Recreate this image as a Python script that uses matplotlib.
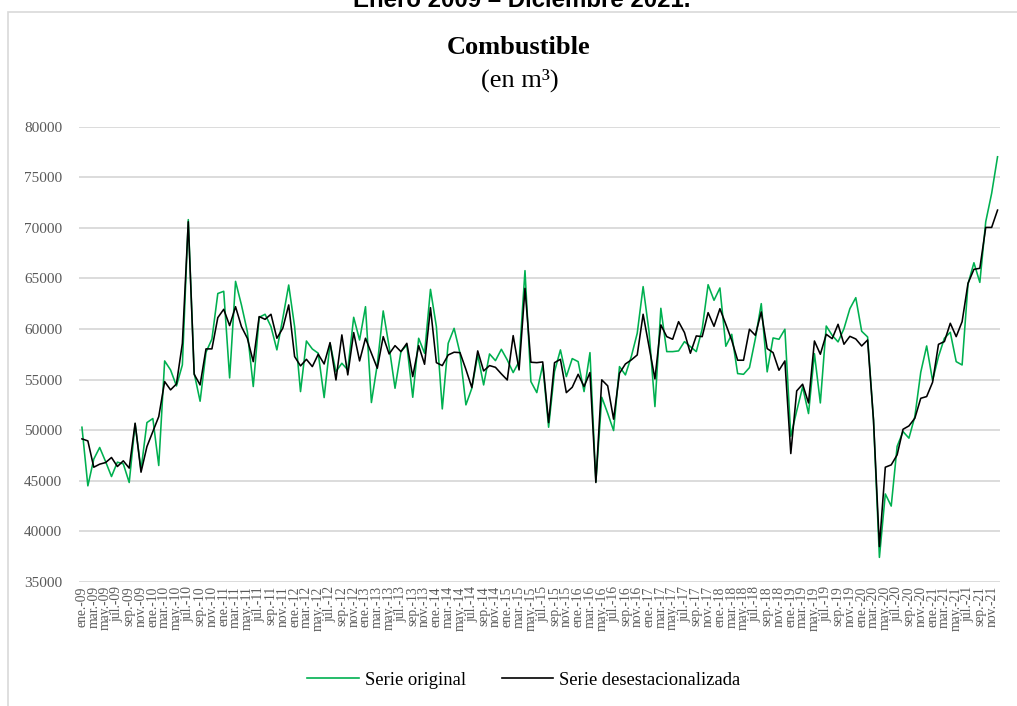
import matplotlib
matplotlib.use("Agg")
import matplotlib.pyplot as plt
from matplotlib.patches import Rectangle
from matplotlib.lines import Line2D

# monthly data, ene-2009 .. dic-2021 (values in m3)
meses = ["ene", "feb", "mar", "abr", "may", "jun", "jul", "ago", "sep", "oct", "nov", "dic"]
anios = list(range(9, 22))
etiquetas = [f"{m}.-{a:02d}" for a in anios for m in meses]

serie_original = [
    50290, 44500, 47140, 48290, 46900, 45420, 46840, 46670, 44830, 50620, 46080, 50750,
    51150, 46510, 56840, 55950, 54370, 56450, 70800, 55620, 52860, 57700, 59000, 63500,
    63720, 55160, 64700, 62370, 59740, 54310, 61150, 61450, 60230, 57930, 61050, 64340,
    60230, 53810, 58810, 58020, 57600, 53220, 58580, 55790, 56610, 55950, 61150, 58910,
    62200, 52730, 56500, 61780, 58250, 54140, 57760, 58420, 53250, 59080, 57600, 63910,
    60230, 52100, 58580, 60060, 57600, 52500, 54140, 57430, 54470, 57530, 56870, 57990,
    56940, 55690, 56770, 65760, 54800, 53710, 56450, 50290, 55790, 57930, 55290, 57070,
    56770, 53810, 57660, 44900, 53250, 51670, 49960, 56280, 55460, 57270, 59570, 64180,
    59740, 52330, 62040, 57760, 57760, 57830, 58750, 58250, 57760, 60000, 64370, 62830,
    64050, 58290, 59470, 55590, 55520, 56180, 59040, 62500, 55760, 59110, 58980, 59970,
    49400, 51900, 54270, 51640, 57560, 52690, 60290, 59370, 58720, 60030, 62000, 63090,
    59770, 59210, 51000, 37430, 43700, 42500, 48400, 49860, 49210, 51350, 55720, 58320,
    54900, 57270, 59080, 59670, 56770, 56440, 64440, 66540, 64600, 70590, 73390, 77010,
]

serie_desest = [
    49140, 48940, 46340, 46640, 46800, 47300, 46410, 46970, 46250, 50690, 45850, 48380,
    49860, 51340, 54800, 53980, 54570, 58580, 70590, 55520, 54470, 58030, 58030, 61120,
    61940, 60330, 62200, 60230, 59080, 56770, 61220, 60950, 61450, 59080, 60070, 62370,
    57270, 56350, 57000, 56280, 57500, 56540, 58650, 54960, 59410, 55460, 59640, 56840,
    59080, 57600, 56120, 59240, 57530, 58350, 57760, 58580, 55290, 58350, 56510, 62100,
    56670, 56380, 57430, 57700, 57660, 56000, 54210, 57830, 55850, 56380, 56210, 55560,
    54960, 59340, 55950, 64010, 56710, 56670, 56740, 50750, 56670, 57000, 53710, 54240,
    55520, 54310, 55690, 44830, 54970, 54380, 51090, 55620, 56540, 56940, 57430, 61450,
    58250, 55060, 60400, 59240, 58980, 60720, 59640, 57600, 59310, 59240, 61610, 60260,
    62000, 60460, 58880, 56910, 56910, 59970, 59370, 61680, 58060, 57660, 55920, 56840,
    47690, 53880, 54540, 52690, 58810, 57500, 59470, 59040, 60460, 58490, 59270, 59010,
    58320, 58910, 51000, 38500, 46340, 46570, 47560, 50090, 50420, 51180, 53150, 53320,
    54730, 58480, 58750, 60560, 59240, 60720, 64510, 65890, 65990, 70030, 70030, 71740,
]

y_ticks = [35000, 40000, 45000, 50000, 55000, 60000, 65000, 70000, 75000, 80000]

VERDE = "#00B050"
GRIS_TXT = "#595959"
GRIS_GRID = "#D9D9D9"

W, H = 1017, 706
fig = plt.figure(figsize=(W / 100, H / 100), dpi=100)

# chart frame (partly outside the picture)
fig.patches.append(Rectangle((8 / W, -0.05), 1.1, (H - 12) / H + 0.05,
                             transform=fig.transFigure, fill=False,
                             edgecolor=GRIS_GRID, linewidth=1.2))

# axes placed in pixel terms
left, right = 79, 1000.5
top, bottom = 126.5, 582
ax = fig.add_axes([left / W, (H - bottom) / H, (right - left) / W, (bottom - top) / H])

x = list(range(len(serie_original)))
ax.plot(x, serie_original, color=VERDE, linewidth=1.15, label="Serie original", zorder=3)
ax.plot(x, serie_desest, color="black", linewidth=1.15, label="Serie desestacionalizada", zorder=4)

ax.set_xlim(-0.5, len(x) - 0.5)
ax.set_ylim(35000, 80000)
ax.set_yticks(y_ticks)
ax.set_yticklabels([str(v) for v in y_ticks], fontfamily="Liberation Serif",
                   fontsize=11, color=GRIS_TXT)
ax.set_xticks(x[::2])
ax.set_xticklabels(etiquetas[::2], rotation=90, fontfamily="Liberation Serif",
                   fontsize=9.8, color=GRIS_TXT)
ax.tick_params(axis="both", length=0)
ax.tick_params(axis="y", pad=12)
ax.tick_params(axis="x", pad=3)
ax.grid(axis="y", color=GRIS_GRID, linewidth=1.3)
ax.set_axisbelow(True)
for s in ax.spines.values():
    s.set_visible(False)

# titles (the first one is cut off by the top edge, as in the source)
fig.text(522 / W, 1 - 7 / H, "Enero 2009 \u2013 Diciembre 2021.", ha="center",
         va="baseline", fontfamily="Liberation Sans", fontweight="bold", fontsize=17.3)
fig.text(519 / W, 1 - 48 / H, "Combustible", ha="center", va="center",
         fontfamily="Liberation Serif", fontweight="bold", fontsize=19)
fig.text(520 / W, 1 - 80 / H, "(en m\u00b3)", ha="center", va="center",
         fontfamily="Liberation Serif", fontsize=19)

handles = [Line2D([], [], color=VERDE, linewidth=1.2),
           Line2D([], [], color="black", linewidth=1.2)]
fig.legend(handles, ["Serie original", "Serie desestacionalizada"],
           loc="center", bbox_to_anchor=(524 / W, 1 - 680 / H), ncol=2,
           frameon=False, prop={"family": "Liberation Serif", "size": 13.4},
           handlelength=2.75, columnspacing=1.9, handletextpad=0.35)

fig.savefig("out.png", dpi=100)
